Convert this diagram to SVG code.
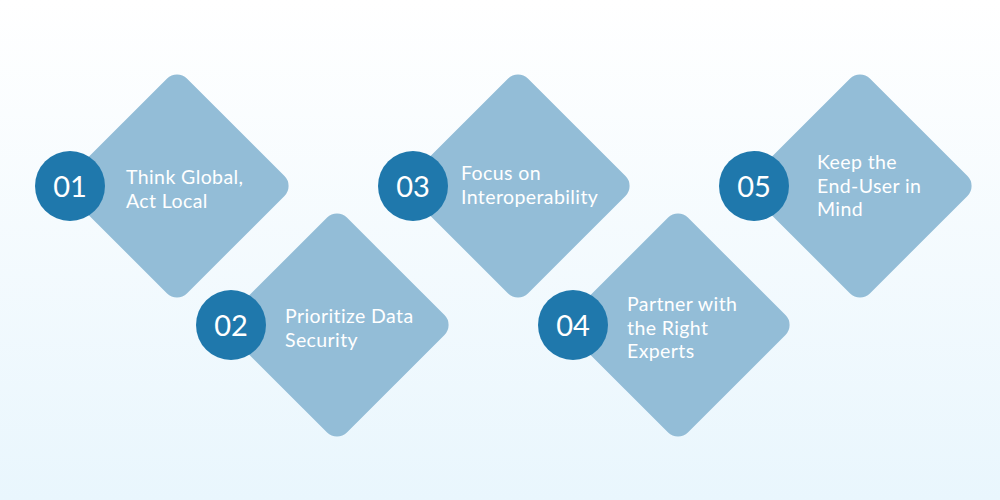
<svg xmlns="http://www.w3.org/2000/svg" width="1000" height="500" viewBox="0 0 1000 500">
  <defs>
    <linearGradient id="bg" x1="0" y1="0" x2="0" y2="1">
      <stop offset="0" stop-color="#ffffff"/>
      <stop offset="1" stop-color="#e9f6fd"/>
    </linearGradient>
    <style>
      .dia { fill: #93bdd7; }
      .num-c { fill: #1f78ac; }
      .num { fill: #ffffff; font-family: Lato, "Liberation Sans", sans-serif; font-size: 29px; text-anchor: middle; }
      .lbl { fill: #ffffff; font-family: Lato, "Liberation Sans", sans-serif; font-size: 19.5px; letter-spacing: 0.4px; }
    </style>
  </defs>
  <rect width="1000" height="500" fill="url(#bg)"/>
  <g id="connectors"/>
  <g id="node1">
    <rect class="dia" x="-83" y="-83" width="166" height="166" rx="14" transform="translate(177,186) rotate(45)"/>
    <circle class="num-c" cx="70" cy="186" r="35"/>
    <text class="num" x="70" y="196.5">01</text>
    <text class="lbl" x="126" y="184">Think Global,</text>
    <text class="lbl" x="126" y="208">Act Local</text>
  </g>
  <g id="node2">
    <rect class="dia" x="-83" y="-83" width="166" height="166" rx="14" transform="translate(337,325) rotate(45)"/>
    <circle class="num-c" cx="231" cy="325" r="35"/>
    <text class="num" x="231" y="335.5">02</text>
    <text class="lbl" x="285" y="323">Prioritize Data</text>
    <text class="lbl" x="285" y="347">Security</text>
  </g>
  <g id="node3">
    <rect class="dia" x="-83" y="-83" width="166" height="166" rx="14" transform="translate(518,186) rotate(45)"/>
    <circle class="num-c" cx="413" cy="186" r="35"/>
    <text class="num" x="413" y="196.5">03</text>
    <text class="lbl" x="461" y="180">Focus on</text>
    <text class="lbl" x="461" y="204">Interoperability</text>
  </g>
  <g id="node4">
    <rect class="dia" x="-83" y="-83" width="166" height="166" rx="14" transform="translate(678,325) rotate(45)"/>
    <circle class="num-c" cx="573" cy="325" r="35"/>
    <text class="num" x="573" y="335.5">04</text>
    <text class="lbl" x="627" y="311">Partner with</text>
    <text class="lbl" x="627" y="334.5">the Right</text>
    <text class="lbl" x="627" y="358">Experts</text>
  </g>
  <g id="node5">
    <rect class="dia" x="-83" y="-83" width="166" height="166" rx="14" transform="translate(860,186) rotate(45)"/>
    <circle class="num-c" cx="754" cy="186" r="35"/>
    <text class="num" x="754" y="196.5">05</text>
    <text class="lbl" x="817" y="169">Keep the</text>
    <text class="lbl" x="817" y="192.5">End-User in</text>
    <text class="lbl" x="817" y="216">Mind</text>
  </g>
</svg>
